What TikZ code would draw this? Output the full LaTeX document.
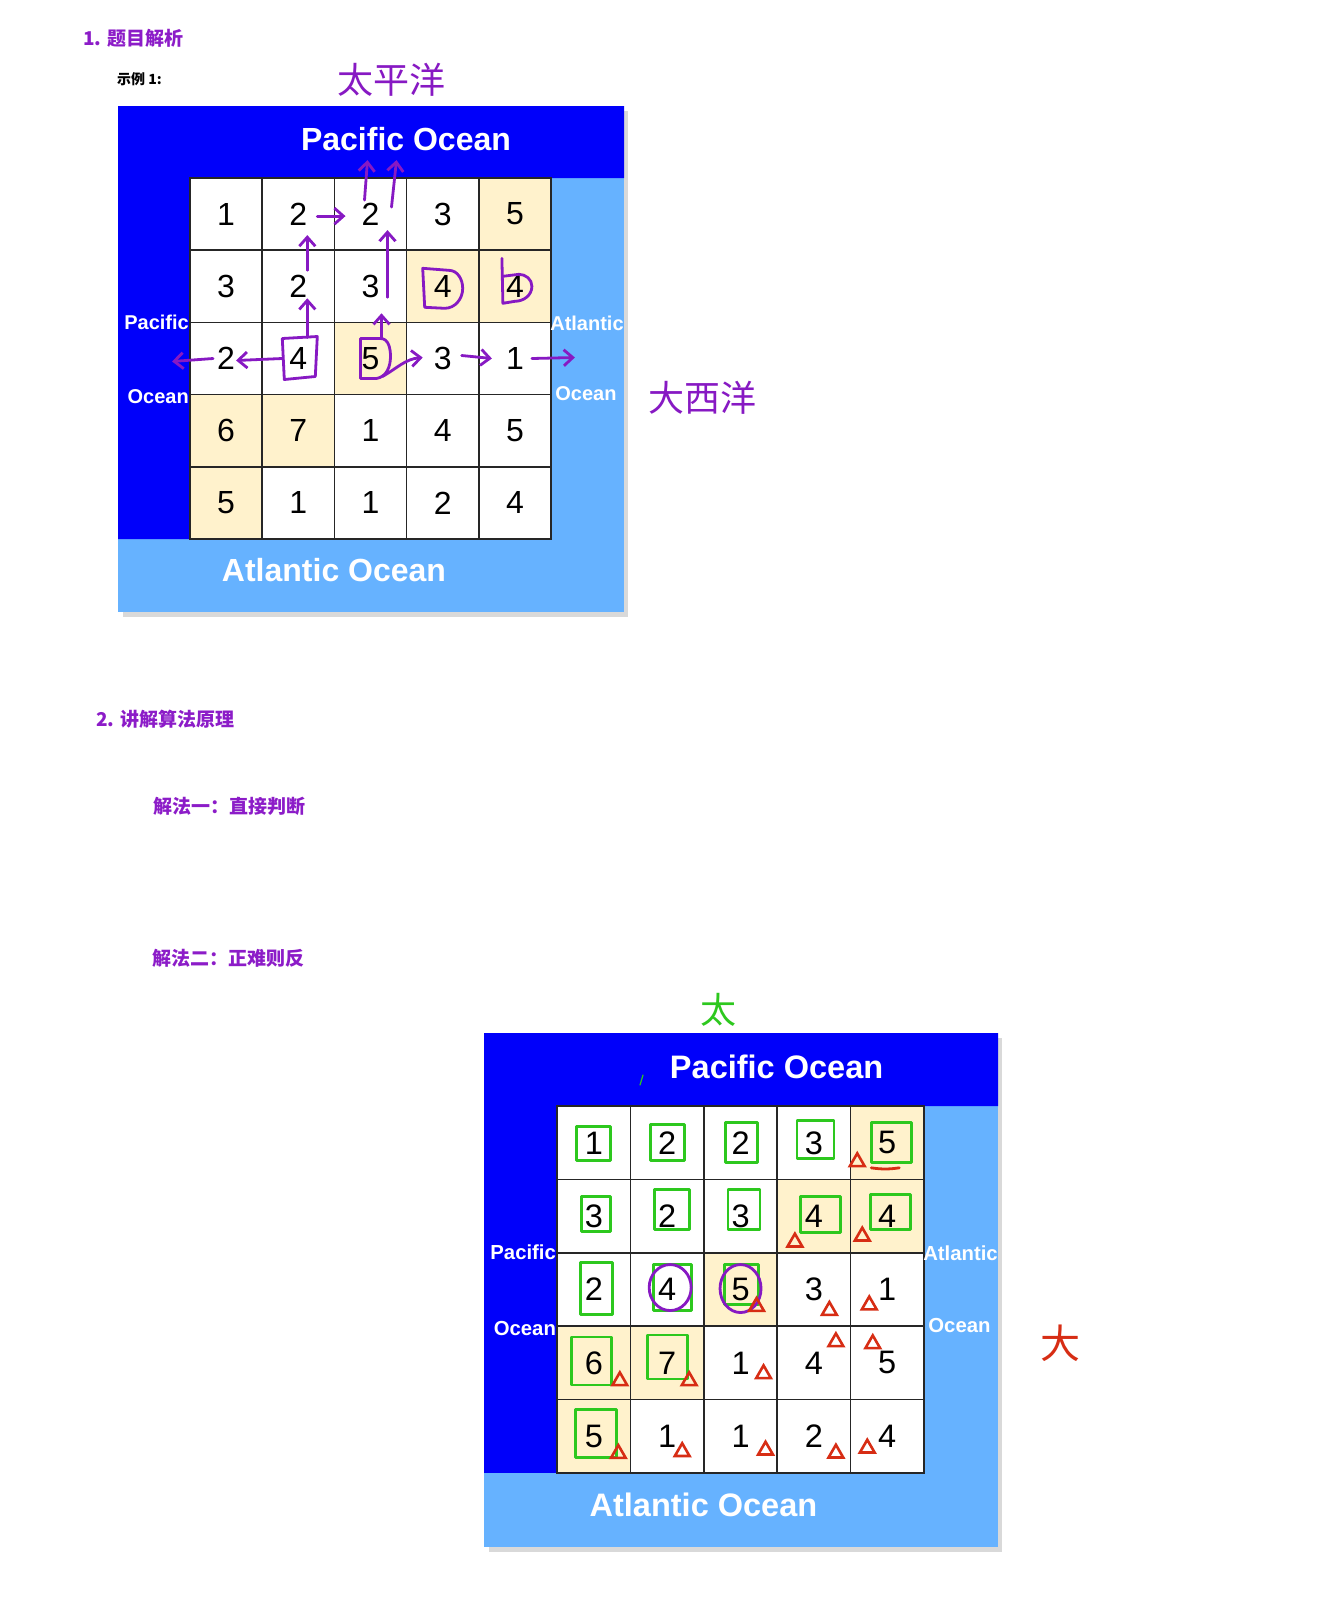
\documentclass[tikz,border=0pt]{standalone}
\usepackage{fontspec}
\setmainfont{Liberation Sans}
\newfontfamily\cjk{Noto Sans CJK SC}
\usetikzlibrary{calc,arrows.meta,shapes.geometric}
\definecolor{SeaDark}{RGB}{0,0,250}
\definecolor{SeaLight}{RGB}{102,178,255}
\definecolor{SandCell}{RGB}{255,242,204}
\definecolor{TitlePurple}{RGB}{140,28,200}
\definecolor{PenPurple}{RGB}{135,25,195}
\definecolor{PenGreen}{RGB}{45,200,30}
\definecolor{PenRed}{RGB}{215,45,20}
\tikzset{
	cell/.style={draw=black!85,line width=1.7pt,minimum size=72.2pt,inner sep=0pt,font=\fontsize{32}{36}\selectfont},
	seatitle/.style={text=white,inner sep=0pt,font=\bfseries\fontsize{32}{36}\selectfont},
	sealabel/.style={text=white,inner sep=0pt,font=\bfseries\fontsize{20}{24}\selectfont},
	heading/.style={anchor=west,inner sep=0pt,text=TitlePurple,font=\cjk\bfseries\fontsize{19}{22}\selectfont},
	scrawl/.style={inner sep=0pt,font=\cjk\fontsize{36}{40}\selectfont},
	pen/.style={line width=2.8pt,line cap=round,line join=round},
	tri/.style={regular polygon,regular polygon sides=3,draw=PenRed,line width=2.6pt,minimum size=17pt,inner sep=0pt},
}
% one ocean map, node names #1-row-col
\newcommand\oceanmap[1]{%
	\fill[black!15] (5,5) rectangle (510,511);
	\fill[SeaLight] (0,0) rectangle (506,506);
	\fill[SeaDark] (0,0) -- (506,0) -- (506,72) -- (72,72) -- (72,433) -- (0,433) -- cycle;
	\fill[white] (72,72) rectangle (433,433);
	\foreach \r/\c in {0/4,1/3,1/4,2/2,3/0,3/1,4/0}
		\fill[SandCell] ({72+72.2*\c},{72+72.2*\r}) rectangle ++(72.2,72.2);
	\foreach \row [count=\r from 0] in {{1,2,2,3,5},{3,2,3,4,4},{2,4,5,3,1},{6,7,1,4,5},{5,1,1,2,4}}
		\foreach \v [count=\c from 0] in \row
			\node[cell] (#1-\r-\c) at ({72+72.2*(\c+.5)},{72+72.2*(\r+.5)}) {\v};
	\node[seatitle] (#1-pac) at (288,33) {Pacific Ocean};
	\node[seatitle] (#1-atl) at (216,464) {Atlantic Ocean};
	\node[sealabel,anchor=east] (#1-pw) at (71,216) {Pacific};
	\node[sealabel,anchor=east] (#1-ow) at (71,291) {Ocean};
	\node[sealabel] (#1-ae) at (469,217) {Atlantic};
	\node[sealabel] (#1-oe) at (468,288) {Ocean};
}

\begin{document}
\begin{tikzpicture}[>={Straight Barb[length=9pt,width=16pt]},x=1pt,y=-1pt]
	\fill[white] (0,0) rectangle (1329,1623);
	\useasboundingbox (0,0) rectangle (1329,1623);

	\node[heading] (h1) at (83,38) {1. 题目解析};
	\node[anchor=west,inner sep=0pt,font=\cjk\bfseries\fontsize{14}{16}\selectfont] (ex1) at (117,79) {示例 1:};
	\node[heading] (h2) at (96,719) {2. 讲解算法原理};
	\node[heading] (m1) at (153,806) {解法一：直接判断};
	\node[heading] (m2) at (152,958) {解法二：正难则反};

	\begin{scope}[shift={(118,106)}]
		\oceanmap{a}
	\end{scope}
	\begin{scope}[shift={(484,1033)},scale=1.016,transform shape]
		\oceanmap{b}
	\end{scope}

	% handwriting
	\node[scrawl,text=PenPurple] (hw1) at (391,80) {太平洋};
	\node[scrawl,text=PenPurple] (hw2) at (702,398) {大西洋};
	\node[scrawl,text=PenGreen] (hw3) at (718,1010) {太};
	\node[scrawl,text=PenRed,font=\cjk\fontsize{40}{44}\selectfont] (hw4) at (1060,1343) {大};
	\draw[line width=1.2pt,PenGreen,line cap=round] (640,1085) -- (643,1075);

	% example 1: flow from the cells
	\draw[pen,PenPurple] ($(a-2-1)+(-16,-20)$) -- ($(a-2-1)+(19,-22)$) -- ($(a-2-1)+(17,18)$) -- ($(a-2-1)+(-14,21)$) -- cycle;
	\draw[pen,PenPurple,->] ($(a-2-1)+(-16,0)$) -- ($(a-2-0)+(10,2)$);
	\draw[pen,PenPurple,->] ($(a-2-0)+(-13,0)$) -- ($(a-2-0)+(-54,3)$);
	\draw[pen,PenPurple,->] ($(a-2-1)+(9,-21)$) -- ($(a-1-1)+(9,12)$);
	\draw[pen,PenPurple,->] ($(a-1-1)+(9,-16)$) -- ($(a-0-1)+(9,21)$);
	\draw[pen,PenPurple,->] ($(a-0-1)+(19,2)$) -- ($(a-0-2)+(-25,2)$);
	\draw[pen,PenPurple] ($(a-2-2)+(-10,-20)$) -- ($(a-2-2)+(10,-20)$) to[out=0,in=90] ($(a-2-2)+(20,-2)$) to[out=-90,in=10] ($(a-2-2)+(6,20)$) -- ($(a-2-2)+(-10,20)$) -- cycle;
	\draw[pen,PenPurple,->] ($(a-2-2)+(11,-20)$) -- ($(a-1-2)+(11,27)$);
	\draw[pen,PenPurple,->] ($(a-1-2)+(17,11)$) -- ($(a-0-2)+(17,16)$);
	\draw[pen,PenPurple,->] ($(a-0-2)+(-6,-14)$) -- ($(a-0-2)+(-3,-54)$);
	\draw[pen,PenPurple,->] ($(a-0-2)+(21,-7)$) -- ($(a-0-2)+(26,-54)$);
	\draw[pen,PenPurple,->] ($(a-2-2)+(12,18)$) to[out=30,in=185] ($(a-2-3)+(-20,-1)$);
	\draw[pen,PenPurple,->] ($(a-2-3)+(19,-3)$) -- ($(a-2-4)+(-23,0)$);
	\draw[pen,PenPurple,->] ($(a-2-4)+(17,0)$) -- ($(a-2-4)+(60,-1)$);
	\draw[pen,PenPurple] ($(a-1-3)+(-20,-18)$) -- ($(a-1-3)+(-18,21)$) -- ($(a-1-3)+(2,22)$) to[out=0,in=-90] ($(a-1-3)+(20,2)$) to[out=90,in=0] ($(a-1-3)+(6,-16)$) -- cycle;
	\draw[pen,PenPurple] ($(a-1-4)+(-13,-28)$) -- ($(a-1-4)+(-12,17)$) -- ($(a-1-4)+(0,15)$) to[out=0,in=-90] ($(a-1-4)+(17,0)$) to[out=90,in=0] ($(a-1-4)+(4,-12)$) -- ($(a-1-4)+(-12,-10)$);

	% example 2: reached cells
	\foreach \r/\c/\dx/\dy/\w/\h in {0/0/0/1/17/17, 0/1/0/0/17/18, 0/2/1/0/16/20, 0/3/1.5/-3/18.5/19, 0/4/4/0/20/20,
		1/0/2.5/-2/14.5/17.5, 1/1/5/-6.5/17.5/20, 1/2/3.5/-6.5/16/20, 1/3/6.5/-1.5/20/18, 1/4/3.5/-4/20/17.5,
		2/0/3/-1/16/26, 2/1/5/-2/19/23, 2/2/1/-5/17/20, 3/0/-2/-2/20/24, 3/1/0/-6/20/22, 4/0/2/-3/20.5/24}
		\draw[pen,PenGreen] ($(b-\r-\c)+(\dx-\w,\dy-\h)$) rectangle ($(b-\r-\c)+(\dx+\w,\dy+\h)$);
	\draw[pen,PenPurple] ($(b-2-1)+(3,-2)$) ellipse [x radius=21pt,y radius=23pt];
	\draw[pen,PenPurple] ($(b-2-2)+(0,-1)$) ellipse [x radius=20.5pt,y radius=24pt];
	\foreach \r/\c/\dx/\dy [count=\k] in {0/4/-30/19, 1/3/-19/26, 1/4/-25/20, 2/2/16/17, 2/3/15.5/21, 2/4/-18/15.5,
		3/0/26/18, 3/1/22/18, 3/2/23/11, 3/3/22/-21, 3/4/-14.5/-19, 4/0/24.5/17.4, 4/1/15/15.5, 4/2/25/14, 4/3/22/17, 4/4/-20/12}
		\node[tri] (t\k) at ($(b-\r-\c)+(\dx,\dy)$) {};
	\draw[pen,PenRed] ($(b-0-4)+(-16,25)$) to[bend right=8] ($(b-0-4)+(12,25)$);
\end{tikzpicture}
\end{document}
